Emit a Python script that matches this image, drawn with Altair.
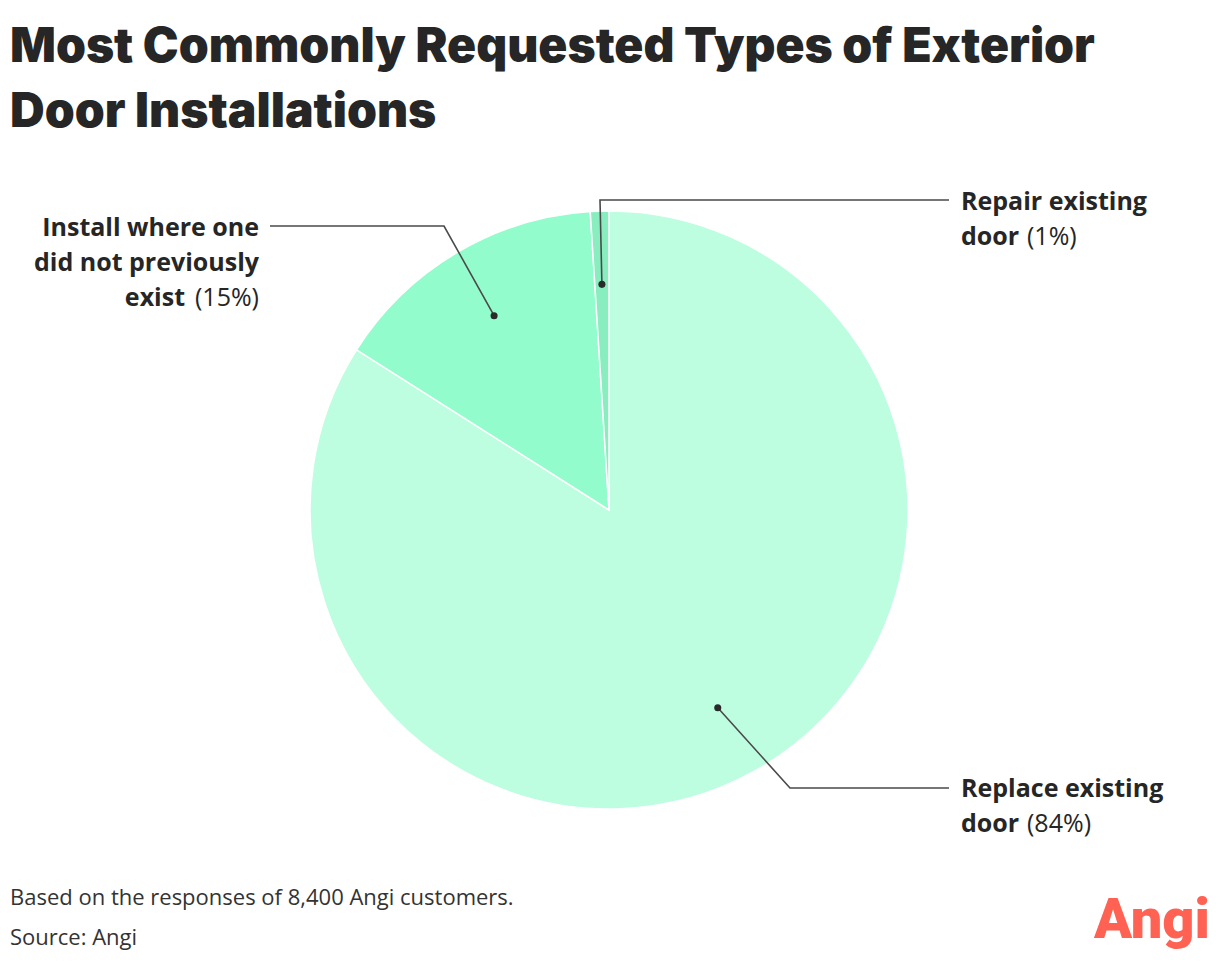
import math
import altair as alt
import pandas as pd

# ---- data ----
categories = ["Replace existing door", "Install where one did not previously exist", "Repair existing door"]
shares = [84, 15, 1]
slice_colors = ["#bdfde0", "#93fccd", "#88eebf"]

title_lines = ["Most Commonly Requested Types of Exterior", "Door Installations"]
footer_lines = ["Based on the responses of 8,400 Angi customers.", "Source: Angi"]

# ---- layout (page pixel coordinates) ----
W, H = 1204, 946
CX, CY, R = 609, 510, 299
DOT_R = 0.755 * R
elbows = {"Replace existing door": (790, 788),
          "Install where one did not previously exist": (444, 226),
          "Repair existing door": (600, 200)}
ends = {"Replace existing door": (949, 788),
        "Install where one did not previously exist": (270, 226),
        "Repair existing door": (949, 200)}

label_parts = [
    # x, y(baseline), text, weight, align
    (961, 210, "Repair existing", "bold", "left"),
    (961, 245, "door", "bold", "left"),
    (1027, 245, "(1%)", "normal", "left"),
    (259, 236, "Install where one", "bold", "right"),
    (259, 271, "did not previously", "bold", "right"),
    (185, 306, "exist", "bold", "right"),
    (259, 306, "(15%)", "normal", "right"),
    (961, 797, "Replace existing", "bold", "left"),
    (961, 832, "door", "bold", "left"),
    (1027, 832, "(84%)", "normal", "left"),
]

LABEL_FONT = "Open Sans"
xs = alt.Scale(domain=[8, 8 + W], range=[0, W])
ys = alt.Scale(domain=[8 + H, 8])  # page y 8 -> top

pie_df = pd.DataFrame({"cat": categories, "share": shares, "order": list(range(len(categories)))})

pie = alt.Chart(pie_df).mark_arc(outerRadius=R, stroke="white", strokeWidth=1.5).encode(
    theta=alt.Theta("share:Q", stack=True),
    order=alt.Order("order:Q"),
    color=alt.Color("cat:N", scale=alt.Scale(domain=categories, range=slice_colors), legend=None),
    x=alt.value(CX - 8),
    y=alt.value(CY - 8),
)

# leader lines computed from slice mid-angles
rows, dots = [], []
cum = 0
for c, s in zip(categories, shares):
    mid = (cum + s / 2) / sum(shares) * 2 * math.pi
    cum += s
    dx = CX + DOT_R * math.sin(mid)
    dy = CY - DOT_R * math.cos(mid)
    dots.append({"cat": c, "px": dx, "py": dy})
    pts = [(dx, dy), elbows[c], ends[c]]
    for i, (px, py) in enumerate(pts):
        rows.append({"cat": c, "i": i, "px": px, "py": py})
line_df = pd.DataFrame(rows)
dot_df = pd.DataFrame(dots)

lines = alt.Chart(line_df).mark_line(color="#4a4a4a", strokeWidth=1.6).encode(
    x=alt.X("px:Q", scale=xs, axis=None),
    y=alt.Y("py:Q", scale=ys, axis=None),
    detail="cat:N",
    order="i:Q",
)
dotm = alt.Chart(dot_df).mark_circle(color="#2a2a2a", size=50, opacity=1).encode(
    x=alt.X("px:Q", scale=xs, axis=None),
    y=alt.Y("py:Q", scale=ys, axis=None),
)

lab_df = pd.DataFrame(label_parts, columns=["px", "py", "t", "w", "a"])
label_layers = []
for (w, a), g in lab_df.groupby(["w", "a"]):
    label_layers.append(
        alt.Chart(g).mark_text(font=LABEL_FONT, fontSize=25, fontWeight=w, align=a,
                               baseline="alphabetic", color="#262626").encode(
            x=alt.X("px:Q", scale=xs, axis=None),
            y=alt.Y("py:Q", scale=ys, axis=None),
            text="t:N",
        )
    )

title_df = pd.DataFrame({"t": title_lines, "px": [10, 10], "py": [62, 127]})
title = alt.Chart(title_df).mark_text(font="Inter", fontSize=48, fontWeight=900, align="left",
                                      baseline="alphabetic", color="#262626").encode(
    x=alt.X("px:Q", scale=xs, axis=None),
    y=alt.Y("py:Q", scale=ys, axis=None),
    text="t:N",
)

foot_df = pd.DataFrame({"t": footer_lines, "px": [10, 10], "py": [905, 945]})
foot = alt.Chart(foot_df).mark_text(font="Open Sans", fontSize=22, align="left",
                                    baseline="alphabetic", color="#333333").encode(
    x=alt.X("px:Q", scale=xs, axis=None),
    y=alt.Y("py:Q", scale=ys, axis=None),
    text="t:N",
)

logo_df = pd.DataFrame({"t": ["Angi"], "px": [1210], "py": [938]})
logo = alt.Chart(logo_df).mark_text(font="Roboto", fontSize=56, fontWeight=900,
                                    align="right", baseline="alphabetic", color="#ff6153").encode(
    x=alt.X("px:Q", scale=xs, axis=None),
    y=alt.Y("py:Q", scale=ys, axis=None),
    text="t:N",
)

chart = alt.layer(pie, lines, dotm, *label_layers, title, foot, logo).properties(
    width=W, height=H, autosize=alt.AutoSizeParams(type="none"), padding=0
).configure_view(stroke=None)

chart.save("out.html", embed_options={"renderer": "svg", "actions": False})
